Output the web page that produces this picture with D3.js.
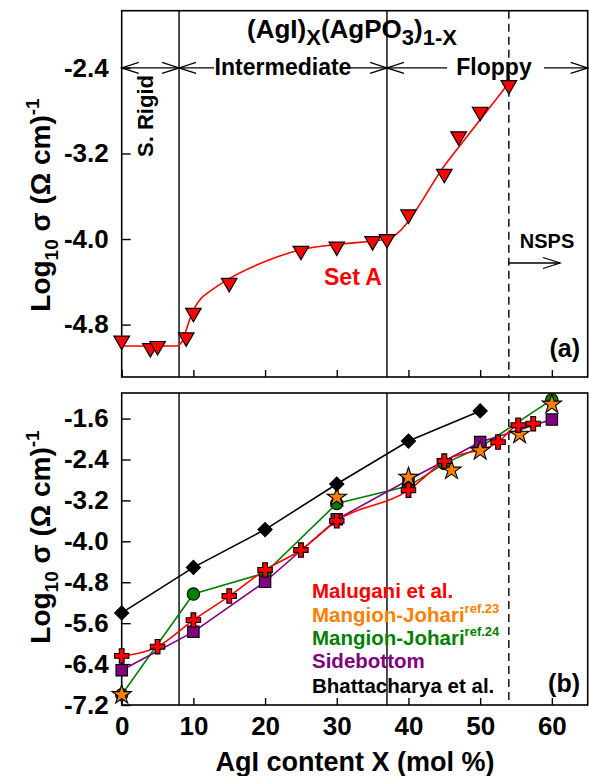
<!DOCTYPE html>
<html>
<head>
<meta charset="utf-8">
<script src="https://cdn.jsdelivr.net/npm/d3@7"></script>
<style>
  body { margin: 0; background: #fff; }
  svg text { font-family: "Liberation Sans", Arial, sans-serif; font-weight: bold; }
</style>
</head>
<body>
<div id="chart"></div>
<script>
// panel (a): Set A
var setAX = [0, 4, 5, 9, 10, 15, 25, 30, 35, 37, 40, 45, 47, 50, 54];
var setAY = [-4.95, -5.02, -5.0, -4.92, -4.69, -4.41, -4.11, -4.07, -4.02, -4.0, -3.77, -3.39, -3.04, -2.81, -2.56];
// fitted curve drawn through set A
var fitX = [0, 7.6, 8.4, 9, 9.5, 10.2, 11, 12.3, 15, 20, 25, 30, 37, 45.5, 54];
var fitY = [-5.0, -5.0, -4.96, -4.85, -4.75, -4.64, -4.56, -4.49, -4.37, -4.21, -4.1, -4.05, -4.0, -3.27, -2.54];

// panel (b): literature data
var malX = [0, 5, 10, 15, 20, 25, 30, 40, 45, 52.5, 55.3, 57.4];
var malY = [-6.24, -6.06, -5.54, -5.07, -4.56, -4.17, -3.60, -3.0, -2.43, -2.06, -1.73, -1.70];
var mj23X = [0, 30, 40, 46, 50, 55.5, 60];
var mj23Y = [-7.0, -3.14, -2.75, -2.61, -2.23, -1.91, -1.32];
var mj24X = [0, 10, 20, 30, 40, 45, 50, 60];
var mj24Y = [-7.0, -5.03, -4.62, -3.26, -2.92, -2.48, -2.16, -1.23];
var sideX = [0, 10, 20, 30, 40, 50, 60];
var sideY = [-6.52, -5.77, -4.79, -3.57, -2.80, -2.06, -1.62];
var bhatX = [0, 10, 20, 30, 40, 50];
var bhatY = [-5.40, -4.51, -3.77, -2.88, -2.04, -1.45];

var xTicks = [0, 10, 20, 30, 40, 50, 60];
var yTicksA = [-4.8, -4.0, -3.2, -2.4];
var yTicksB = [-7.2, -6.4, -5.6, -4.8, -4.0, -3.2, -2.4, -1.6];
var phaseLines = [8, 37];
var nspsLine = 54;

var width = 589, height = 776;
var left = 121.7, right = 587.7;

var svg = d3.select("#chart").append("svg")
  .attr("width", width).attr("height", height);

var x = d3.scaleLinear().domain([0, 65]).range([left, right]);
var yA = d3.scaleLinear().domain([-5.29, -1.865]).range([377, 10.7]);
var yB = d3.scaleLinear().domain([-7.2, -1.1]).range([705, 393]);

function zip(xs, ys) { return xs.map(function(v, i) { return [v, ys[i]]; }); }

function panel(y, ticks) {
  var g = svg.append("g");
  // phase boundaries
  phaseLines.forEach(function(v) {
    g.append("line").attr("x1", x(v)).attr("x2", x(v))
      .attr("y1", y.range()[1]).attr("y2", y.range()[0])
      .attr("stroke", "#000").attr("stroke-width", 1.4);
  });
  g.append("line").attr("x1", x(nspsLine)).attr("x2", x(nspsLine))
    .attr("y1", y.range()[1]).attr("y2", y.range()[0])
    .attr("stroke", "#000").attr("stroke-width", 1.4)
    .attr("stroke-dasharray", "8,5");

  var ya = g.append("g").attr("transform", "translate(" + left + ",0)")
    .call(d3.axisLeft(y).tickValues(ticks).tickSize(-9).tickPadding(13)
      .tickFormat(function(d) { return d.toFixed(1); }));
  ya.select(".domain").remove();
  ya.selectAll("text").style("font-size", "26px").attr("fill", "#000");
  ya.selectAll("line").attr("stroke-width", 1.4);

  var xa = g.append("g").attr("transform", "translate(0," + y.range()[0] + ")")
    .call(d3.axisBottom(x).tickValues(xTicks).tickSize(-7).tickPadding(12));
  xa.select(".domain").remove();
  xa.selectAll("line").attr("stroke-width", 1.4);
  xa.selectAll("text").style("font-size", "26px").attr("fill", "#000");

  g.append("rect").attr("x", left).attr("y", y.range()[1])
    .attr("width", right - left).attr("height", y.range()[0] - y.range()[1])
    .attr("fill", "none").attr("stroke", "#000").attr("stroke-width", 1.6);
  return { g: g, xa: xa };
}

var pa = panel(yA, yTicksA);
pa.xa.selectAll("text").remove();
var pb = panel(yB, yTicksB);

// ---- panel (a) marks ----
var lineA = d3.line().x(function(d) { return x(d[0]); }).y(function(d) { return yA(d[1]); })
  .curve(d3.curveMonotoneX);
pa.g.append("path").datum(zip(fitX, fitY)).attr("d", lineA)
  .attr("fill", "none").attr("stroke", "#ff0000").attr("stroke-width", 1.6);

var tri = d3.symbol().type(d3.symbolTriangle).size(105);
pa.g.selectAll(".tri").data(zip(setAX, setAY)).enter().append("path")
  .attr("d", tri)
  .attr("transform", function(d) { return "translate(" + x(d[0]) + "," + yA(d[1]) + ") rotate(180)"; })
  .attr("fill", "#ff0000").attr("stroke", "#000").attr("stroke-width", 1.2);

// title
var title = svg.append("text").attr("x", 352).attr("y", 38)
  .attr("text-anchor", "middle").style("font-size", "26px");
title.append("tspan").text("(AgI)");
title.append("tspan").attr("dy", 7).style("font-size", "22px").text("X");
title.append("tspan").attr("dy", -7).text("(AgPO");
title.append("tspan").attr("dy", 7).style("font-size", "22px").text("3");
title.append("tspan").attr("dy", -7).text(")");
title.append("tspan").attr("dy", 7).style("font-size", "22px").text("1-X");

// phase arrows
function chevron(px, py, dir) {
  svg.append("path")
    .attr("d", "M" + (px - dir * 17) + "," + (py - 5.5) + "L" + px + "," + py + "L" + (px - dir * 17) + "," + (py + 5.5))
    .attr("fill", "none").attr("stroke", "#000").attr("stroke-width", 1.3);
}
function hline(x1, x2, py) {
  svg.append("line").attr("x1", x1).attr("x2", x2).attr("y1", py).attr("y2", py)
    .attr("stroke", "#000").attr("stroke-width", 1.3);
}
var ay = yA(-2.4);
hline(x(0), x(8), ay); chevron(x(0), ay, -1); chevron(x(8), ay, 1);
hline(x(8), 214, ay); chevron(x(8), ay, -1);
hline(350, x(37), ay); chevron(x(37), ay, 1);
hline(x(37), 447, ay); chevron(x(37), ay, -1);
hline(544, right, ay); chevron(right, ay, 1);

svg.append("text").attr("x", 283).attr("y", 75).attr("text-anchor", "middle")
  .style("font-size", "23px").text("Intermediate");
svg.append("text").attr("x", 494).attr("y", 75).attr("text-anchor", "middle")
  .style("font-size", "23px").text("Floppy");
svg.append("text").attr("transform", "translate(153,116) rotate(-90)")
  .attr("text-anchor", "middle").style("font-size", "22px").text("S. Rigid");

// NSPS arrow
svg.append("text").attr("x", 547).attr("y", 248).attr("text-anchor", "middle")
  .style("font-size", "20px").text("NSPS");
hline(x(nspsLine), 560, 263); chevron(560, 263, 1);

svg.append("text").attr("x", 353).attr("y", 285).attr("text-anchor", "middle")
  .attr("fill", "#ff0000").style("font-size", "23px").text("Set A");
svg.append("text").attr("x", 580).attr("y", 357).attr("text-anchor", "end")
  .style("font-size", "25px").text("(a)");

// ---- panel (b) marks ----
var lineB = d3.line().x(function(d) { return x(d[0]); }).y(function(d) { return yB(d[1]); });
var series = [
  { xs: mj24X, ys: mj24Y, color: "#008000", line: true },
  { xs: sideX, ys: sideY, color: "#800080", line: true },
  { xs: malX, ys: malY, color: "#ff0000", line: true, curve: true },
  { xs: bhatX, ys: bhatY, color: "#000000", line: true }
];
series.forEach(function(s) {
  var ln = s.curve ? lineB.curve(d3.curveMonotoneX) : lineB.curve(d3.curveLinear);
  pb.g.append("path").datum(zip(s.xs, s.ys)).attr("d", ln)
    .attr("fill", "none").attr("stroke", s.color).attr("stroke-width", 1.6);
});

function markers(xs, ys, type, size, fill, rot) {
  var sym = d3.symbol().type(type).size(size);
  pb.g.append("g").selectAll("path").data(zip(xs, ys)).enter().append("path")
    .attr("d", sym)
    .attr("transform", function(d) { return "translate(" + x(d[0]) + "," + yB(d[1]) + ")" + (rot ? " rotate(" + rot + ")" : ""); })
    .attr("fill", fill).attr("stroke", "#000").attr("stroke-width", 1.1);
}
markers(mj24X, mj24Y, d3.symbolCircle, 120, "#008000");
markers(sideX, sideY, d3.symbolSquare, 130, "#800080");
markers(mj23X, mj23Y, d3.symbolStar, 115, "#ff8000");
markers(malX, malY, d3.symbolCross, 115, "#ff0000");
markers(bhatX, bhatY, d3.symbolSquare, 100, "#000000", 45);

// legend
var legend = [
  { t: "Malugani et al.", c: "#ff0000", y: 598 },
  { t: "Mangion-Johari", sup: "ref.23", c: "#ff8000", y: 622 },
  { t: "Mangion-Johari", sup: "ref.24", c: "#008000", y: 645 },
  { t: "Sidebottom", c: "#800080", y: 668 },
  { t: "Bhattacharya et al.", c: "#000000", y: 693 }
];
legend.forEach(function(l) {
  var t = svg.append("text").attr("x", 312).attr("y", l.y).attr("fill", l.c)
    .style("font-size", "20.5px").text(l.t);
  if (l.sup) t.append("tspan").attr("dy", -9).style("font-size", "13px").text(l.sup);
});
svg.append("text").attr("x", 580).attr("y", 692).attr("text-anchor", "end")
  .style("font-size", "25px").text("(b)");

// axis titles
svg.append("text").attr("x", 355).attr("y", 771).attr("text-anchor", "middle")
  .style("font-size", "27px").text("AgI content X (mol %)");

function ylabel(cy) {
  var t = svg.append("text").attr("transform", "translate(50," + cy + ") rotate(-90)")
    .attr("text-anchor", "middle").style("font-size", "28px");
  t.append("tspan").text("Log");
  t.append("tspan").attr("dy", 8).style("font-size", "19px").text("10");
  t.append("tspan").attr("dy", -8).text(" \u03c3 (\u03a9 cm)");
  t.append("tspan").attr("dy", -11).style("font-size", "19px").text("-1");
}
ylabel(205);
ylabel(537);
</script>
</body>
</html>
